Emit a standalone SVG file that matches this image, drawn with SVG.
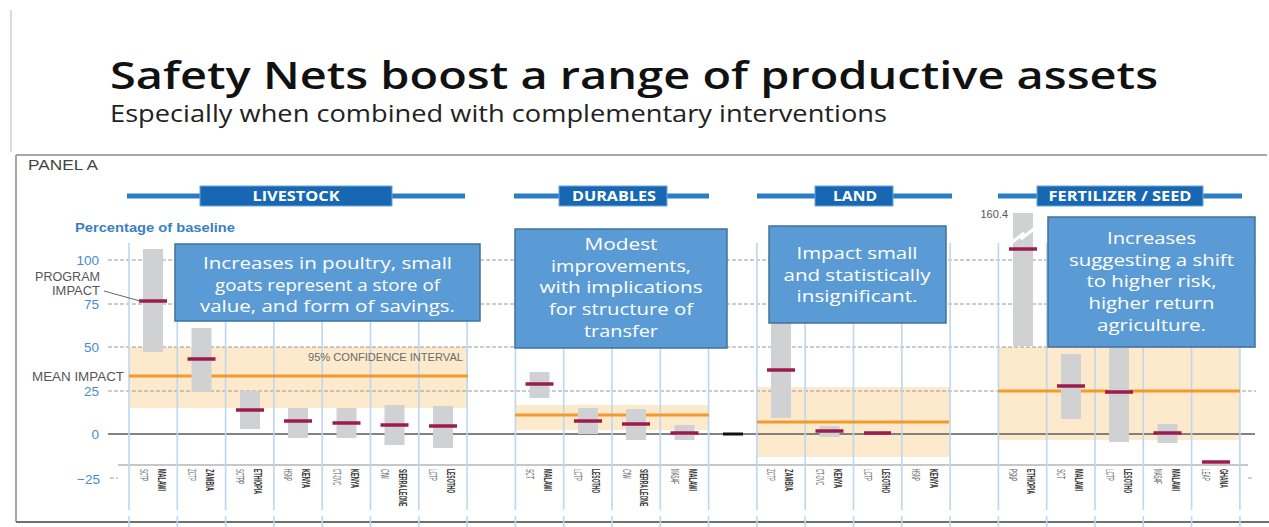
<svg xmlns="http://www.w3.org/2000/svg" width="1269" height="527" viewBox="0 0 1269 527">
<style>
.title{font-family:"Open Sans","Liberation Sans",sans-serif;font-weight:600;fill:#111}
.sub{font-family:"Open Sans","Liberation Sans",sans-serif;fill:#222}
.grid{stroke:#9a9a9a;stroke-width:1;stroke-dasharray:4 2;fill:none}
.col{stroke:#bcd7ef;stroke-width:1.6}
.band{fill:#fde9cb}
.mean{stroke:#f29a2e;stroke-width:3}
.bar{fill:#cfd1d3}
.mark{stroke:#9e1b4f;stroke-width:3.5}
.hdrline{stroke:#2a7cc5;stroke-width:5}
.hdrbox{fill:#1867b3;stroke:#6aa6dc;stroke-width:1}
.hdrtxt{font-family:"Open Sans","Liberation Sans",sans-serif;font-weight:bold;font-size:13.5px;fill:#fff;text-anchor:middle}
.box{fill:#5b9bd5;stroke:#41719c;stroke-width:1.5}
.btxt{font-family:"Open Sans","Liberation Sans",sans-serif;font-size:17px;fill:#fff;text-anchor:middle}
.ax{font-family:"Liberation Sans",sans-serif;font-size:13.5px;fill:#4a8cc9;text-anchor:end}
.lbl{font-family:"Liberation Sans",sans-serif;font-size:12.5px;fill:#555;text-anchor:end}
.prog{font-family:"Liberation Sans",sans-serif;font-size:10px;fill:#666}
.cty{font-family:"Liberation Sans",sans-serif;font-size:10px;font-weight:bold;fill:#333}
</style>

<!-- slide frame -->
<line x1="11" y1="10" x2="11" y2="152" stroke="#cfcfcf" stroke-width="1.5"/>
<text class="title" x="110" y="89" font-size="37" textLength="1048" lengthAdjust="spacingAndGlyphs">Safety Nets boost a range of productive assets</text>
<text class="sub" x="110" y="122" font-size="23" textLength="777" lengthAdjust="spacingAndGlyphs">Especially when combined with complementary interventions</text>

<!-- panel border -->
<g id="panel">
<line x1="16" y1="155" x2="1267" y2="155" stroke="#8a8a8a" stroke-width="1.5"/>
<line x1="16" y1="155" x2="16" y2="522" stroke="#8a8a8a" stroke-width="1.5"/>
<line x1="16" y1="522" x2="1269" y2="522" stroke="#6f6f6f" stroke-width="1.8"/>
<text x="28" y="170" font-family="Liberation Sans,sans-serif" font-size="14" fill="#444" textLength="70" lengthAdjust="spacingAndGlyphs">PANEL A</text>
</g>

<!-- confidence bands -->
<g id="bands">
<rect class="band" x="129" y="347" width="339" height="61"/>
<rect class="band" x="515" y="405" width="194" height="25"/>
<rect class="band" x="757" y="387" width="193" height="70"/>
<rect class="band" x="998" y="347" width="242" height="93"/>
</g>

<!-- gridlines -->
<g id="grid">
<line class="grid" x1="108" y1="260" x2="1256" y2="260"/>
<line class="grid" x1="108" y1="304" x2="1256" y2="304"/>
<line class="grid" x1="108" y1="347" x2="1256" y2="347"/>
<line class="grid" x1="108" y1="391" x2="1256" y2="391"/>
<line class="grid" x1="110" y1="478" x2="118" y2="478"/>
<line class="grid" x1="1248" y1="478" x2="1254" y2="478"/>
<line x1="108" y1="434" x2="1255" y2="434" stroke="#5a5a5a" stroke-width="1.3"/>
<line x1="118" y1="465" x2="1248" y2="465" stroke="#8f8f8f" stroke-width="1.2"/>
</g>

<!-- column dividers -->
<g id="columns">
<path class="col" d="M129 243V510M177.3 243V510M225.6 243V510M273.9 243V510M322.2 243V510M370.5 243V510M418.8 243V510M467.1 243V510M515.4 243V510M563.7 243V510M612 243V510M660.3 243V510M708.6 243V510M756.9 243V510M805.2 243V510M853.5 243V510M901.8 243V510M950.1 243V510M998.4 243V510M1046.7 243V510M1095 243V510M1143.3 243V510M1191.6 243V510M1239.9 243V510"/>
<path class="col" d="M129 516V527M177.3 516V527M225.6 516V527M273.9 516V527M322.2 516V527M370.5 516V527M418.8 516V527M467.1 516V527M515.4 516V527M563.7 516V527M612 516V527M660.3 516V527M708.6 516V527M756.9 516V527M805.2 516V527M853.5 516V527M901.8 516V527M950.1 516V527M998.4 516V527M1046.7 516V527M1095 516V527M1143.3 516V527M1191.6 516V527M1239.9 516V527"/>
</g>

<!-- mean lines -->
<g id="means">
<line class="mean" x1="129" y1="376" x2="468" y2="376"/>
<line class="mean" x1="515" y1="415" x2="709" y2="415"/>
<line class="mean" x1="757" y1="422" x2="949" y2="422"/>
<line class="mean" x1="998" y1="391" x2="1240" y2="391"/>
<text x="463" y="361" font-family="Liberation Sans,sans-serif" font-size="10.5" fill="#6a6a6a" text-anchor="end" textLength="155" lengthAdjust="spacingAndGlyphs">95% CONFIDENCE INTERVAL</text>
</g>

<!-- axis labels -->
<g id="axis">
<text x="75" y="232" font-family="Liberation Sans,sans-serif" font-size="13" font-weight="bold" fill="#3a7fc1" textLength="160" lengthAdjust="spacingAndGlyphs">Percentage of baseline</text>
<text class="ax" x="99" y="265">100</text>
<text class="ax" x="99" y="309">75</text>
<text class="ax" x="99" y="352">50</text>
<text class="ax" x="99" y="396">25</text>
<text class="ax" x="99" y="439">0</text>
<text class="ax" x="100" y="484">−25</text>
<text class="lbl" x="100" y="281" textLength="65" lengthAdjust="spacingAndGlyphs">PROGRAM</text>
<text class="lbl" x="100" y="295" textLength="48" lengthAdjust="spacingAndGlyphs">IMPACT</text>
<text class="lbl" x="124" y="381" font-size="13" textLength="92" lengthAdjust="spacingAndGlyphs">MEAN IMPACT</text>
</g>

<!-- category headers -->
<g id="hdr-livestock">
<line class="hdrline" x1="127" y1="196" x2="465" y2="196"/>
<rect class="hdrbox" x="200" y="186" width="192" height="20"/>
<text class="hdrtxt" x="296" y="201" textLength="87" lengthAdjust="spacingAndGlyphs">LIVESTOCK</text>
</g>
<g id="hdr-durables">
<line class="hdrline" x1="514" y1="196" x2="709" y2="196"/>
<rect class="hdrbox" x="559" y="186" width="108" height="20"/>
<text class="hdrtxt" x="614" y="201" textLength="84" lengthAdjust="spacingAndGlyphs">DURABLES</text>
</g>
<g id="hdr-land">
<line class="hdrline" x1="757" y1="196" x2="952" y2="196"/>
<rect class="hdrbox" x="815" y="186" width="78" height="20"/>
<text class="hdrtxt" x="855" y="201" textLength="44" lengthAdjust="spacingAndGlyphs">LAND</text>
</g>
<g id="hdr-fertilizer">
<line class="hdrline" x1="998" y1="196" x2="1242" y2="196"/>
<rect class="hdrbox" x="1037" y="186" width="166" height="20"/>
<text class="hdrtxt" x="1120" y="201" textLength="143" lengthAdjust="spacingAndGlyphs">FERTILIZER / SEED</text>
</g>

<!-- bars -->
<g id="bars-livestock">
<rect class="bar" x="143" y="249" width="20" height="103"/>
<rect class="bar" x="191.5" y="328" width="20" height="64"/>
<rect class="bar" x="240" y="391" width="20" height="38"/>
<rect class="bar" x="288" y="408" width="20" height="30"/>
<rect class="bar" x="336.5" y="408" width="20" height="30"/>
<rect class="bar" x="384.5" y="405" width="20" height="40"/>
<rect class="bar" x="433" y="406" width="20" height="42"/>
<line class="mark" x1="139" y1="301" x2="167" y2="301"/>
<line class="mark" x1="187.5" y1="359" x2="215.5" y2="359"/>
<line class="mark" x1="236" y1="410" x2="264" y2="410"/>
<line class="mark" x1="284" y1="421" x2="312" y2="421"/>
<line class="mark" x1="332.5" y1="423" x2="360.5" y2="423"/>
<line class="mark" x1="380.5" y1="425" x2="408.5" y2="425"/>
<line class="mark" x1="429" y1="426" x2="457" y2="426"/>
</g>
<g id="bars-durables">
<rect class="bar" x="529.5" y="372" width="20" height="26"/>
<rect class="bar" x="578" y="408" width="20" height="26"/>
<rect class="bar" x="626" y="409" width="20" height="31"/>
<rect class="bar" x="674.5" y="425" width="20" height="15"/>
<line class="mark" x1="525.5" y1="384" x2="553.5" y2="384"/>
<line class="mark" x1="574" y1="421" x2="602" y2="421"/>
<line class="mark" x1="622" y1="424" x2="650" y2="424"/>
<line class="mark" x1="670.5" y1="433" x2="698.5" y2="433"/>
<line x1="723" y1="434" x2="743" y2="434" stroke="#111" stroke-width="3"/>
</g>
<g id="bars-land">
<rect class="bar" x="771" y="300" width="20" height="118"/>
<rect class="bar" x="819.5" y="426" width="20" height="11"/>
<line class="mark" x1="767" y1="370" x2="795" y2="370"/>
<line class="mark" x1="815.5" y1="431" x2="843.5" y2="431"/>
<line class="mark" x1="864" y1="433" x2="891" y2="433"/>
</g>
<g id="bars-fertilizer">
<rect class="bar" x="1013" y="213" width="20" height="133"/>
<path d="M1011 243 L1024 233 L1021 239 L1035 228" stroke="#fff" stroke-width="3" fill="none"/>
<text x="1008" y="218" font-family="Liberation Sans,sans-serif" font-size="11" fill="#555" text-anchor="end">160.4</text>
<rect class="bar" x="1061" y="354" width="20" height="65"/>
<rect class="bar" x="1109" y="330" width="20" height="112"/>
<rect class="bar" x="1157.5" y="424" width="20" height="19"/>
<line class="mark" x1="1009" y1="249" x2="1037" y2="249"/>
<line class="mark" x1="1057" y1="386" x2="1085" y2="386"/>
<line class="mark" x1="1105" y1="392" x2="1133" y2="392"/>
<line class="mark" x1="1153.5" y1="433" x2="1181.5" y2="433"/>
<line class="mark" x1="1202" y1="462" x2="1230" y2="462"/>
</g>

<!-- column labels -->
<g id="col-labels">
<text class="prog" transform="translate(143,469) rotate(90)" dy="3.5" textLength="12" lengthAdjust="spacingAndGlyphs">SCTP</text>
<text class="cty" transform="translate(161,469) rotate(90)" dy="3.5" textLength="22" lengthAdjust="spacingAndGlyphs">MALAWI</text>
<text class="prog" transform="translate(191.3,469) rotate(90)" dy="3.5" textLength="12" lengthAdjust="spacingAndGlyphs">ZCTP</text>
<text class="cty" transform="translate(209.3,469) rotate(90)" dy="3.5" textLength="22" lengthAdjust="spacingAndGlyphs">ZAMBIA</text>
<text class="prog" transform="translate(239.6,469) rotate(90)" dy="3.5" textLength="15" lengthAdjust="spacingAndGlyphs">SCTPP</text>
<text class="cty" transform="translate(257.6,469) rotate(90)" dy="3.5" textLength="25" lengthAdjust="spacingAndGlyphs">ETHIOPIA</text>
<text class="prog" transform="translate(287.9,469) rotate(90)" dy="3.5" textLength="12" lengthAdjust="spacingAndGlyphs">HSNP</text>
<text class="cty" transform="translate(305.9,469) rotate(90)" dy="3.5" textLength="19" lengthAdjust="spacingAndGlyphs">KENYA</text>
<text class="prog" transform="translate(336.2,469) rotate(90)" dy="3.5" textLength="16" lengthAdjust="spacingAndGlyphs">CT-OVC</text>
<text class="cty" transform="translate(354.2,469) rotate(90)" dy="3.5" textLength="19" lengthAdjust="spacingAndGlyphs">KENYA</text>
<text class="prog" transform="translate(384.5,469) rotate(90)" dy="3.5" textLength="10" lengthAdjust="spacingAndGlyphs">CfW</text>
<text class="cty" transform="translate(402.5,469) rotate(90) scale(0.5,1)" dy="3.5">SIERRA LEONE</text>
<text class="prog" transform="translate(432.8,469) rotate(90)" dy="3.5" textLength="12" lengthAdjust="spacingAndGlyphs">LCTP</text>
<text class="cty" transform="translate(450.8,469) rotate(90)" dy="3.5" textLength="24" lengthAdjust="spacingAndGlyphs">LESOTHO</text>

<text class="prog" transform="translate(529.4,469) rotate(90)" dy="3.5" textLength="10" lengthAdjust="spacingAndGlyphs">SCT</text>
<text class="cty" transform="translate(547.4,469) rotate(90)" dy="3.5" textLength="22" lengthAdjust="spacingAndGlyphs">MALAWI</text>
<text class="prog" transform="translate(577.7,469) rotate(90)" dy="3.5" textLength="12" lengthAdjust="spacingAndGlyphs">LCTP</text>
<text class="cty" transform="translate(595.7,469) rotate(90)" dy="3.5" textLength="24" lengthAdjust="spacingAndGlyphs">LESOTHO</text>
<text class="prog" transform="translate(626,469) rotate(90)" dy="3.5" textLength="10" lengthAdjust="spacingAndGlyphs">CfW</text>
<text class="cty" transform="translate(644,469) rotate(90) scale(0.5,1)" dy="3.5">SIERRA LEONE</text>
<text class="prog" transform="translate(674.3,469) rotate(90)" dy="3.5" textLength="15" lengthAdjust="spacingAndGlyphs">MASAF</text>
<text class="cty" transform="translate(692.3,469) rotate(90)" dy="3.5" textLength="22" lengthAdjust="spacingAndGlyphs">MALAWI</text>

<text class="prog" transform="translate(770.9,469) rotate(90)" dy="3.5" textLength="12" lengthAdjust="spacingAndGlyphs">ZCTP</text>
<text class="cty" transform="translate(788.9,469) rotate(90)" dy="3.5" textLength="22" lengthAdjust="spacingAndGlyphs">ZAMBIA</text>
<text class="prog" transform="translate(819.2,469) rotate(90)" dy="3.5" textLength="16" lengthAdjust="spacingAndGlyphs">CT-OVC</text>
<text class="cty" transform="translate(837.2,469) rotate(90)" dy="3.5" textLength="19" lengthAdjust="spacingAndGlyphs">KENYA</text>
<text class="prog" transform="translate(867.5,469) rotate(90)" dy="3.5" textLength="12" lengthAdjust="spacingAndGlyphs">LCTP</text>
<text class="cty" transform="translate(885.5,469) rotate(90)" dy="3.5" textLength="24" lengthAdjust="spacingAndGlyphs">LESOTHO</text>
<text class="prog" transform="translate(915.8,469) rotate(90)" dy="3.5" textLength="12" lengthAdjust="spacingAndGlyphs">HSNP</text>
<text class="cty" transform="translate(933.8,469) rotate(90)" dy="3.5" textLength="19" lengthAdjust="spacingAndGlyphs">KENYA</text>

<text class="prog" transform="translate(1012.4,469) rotate(90)" dy="3.5" textLength="12" lengthAdjust="spacingAndGlyphs">PSNP</text>
<text class="cty" transform="translate(1030.4,469) rotate(90)" dy="3.5" textLength="25" lengthAdjust="spacingAndGlyphs">ETHIOPIA</text>
<text class="prog" transform="translate(1060.7,469) rotate(90)" dy="3.5" textLength="10" lengthAdjust="spacingAndGlyphs">SCT</text>
<text class="cty" transform="translate(1078.7,469) rotate(90)" dy="3.5" textLength="22" lengthAdjust="spacingAndGlyphs">MALAWI</text>
<text class="prog" transform="translate(1109,469) rotate(90)" dy="3.5" textLength="12" lengthAdjust="spacingAndGlyphs">LCTP</text>
<text class="cty" transform="translate(1127,469) rotate(90)" dy="3.5" textLength="24" lengthAdjust="spacingAndGlyphs">LESOTHO</text>
<text class="prog" transform="translate(1157.3,469) rotate(90)" dy="3.5" textLength="15" lengthAdjust="spacingAndGlyphs">MASAF</text>
<text class="cty" transform="translate(1175.3,469) rotate(90)" dy="3.5" textLength="22" lengthAdjust="spacingAndGlyphs">MALAWI</text>
<text class="prog" transform="translate(1205.6,469) rotate(90)" dy="3.5" textLength="12" lengthAdjust="spacingAndGlyphs">LEAP</text>
<text class="cty" transform="translate(1223.6,469) rotate(90)" dy="3.5" textLength="19" lengthAdjust="spacingAndGlyphs">GHANA</text>
</g>

<!-- connectors -->
<g id="connectors">
<line x1="104" y1="291" x2="140" y2="301" stroke="#666" stroke-width="1"/>
</g>

<!-- callout boxes -->
<g id="note-livestock">
<rect class="box" x="175" y="244" width="305" height="77"/>
<text class="btxt" x="327.5" y="269" textLength="249" lengthAdjust="spacingAndGlyphs">Increases in poultry, small</text>
<text class="btxt" x="327.5" y="291" textLength="225" lengthAdjust="spacingAndGlyphs">goats represent a store of</text>
<text class="btxt" x="327.5" y="312" textLength="255" lengthAdjust="spacingAndGlyphs">value, and form of savings.</text>
</g>
<g id="note-durables">
<rect class="box" x="515" y="229" width="212" height="119"/>
<text class="btxt" x="621" y="250" textLength="73" lengthAdjust="spacingAndGlyphs">Modest</text>
<text class="btxt" x="621" y="272" textLength="140" lengthAdjust="spacingAndGlyphs">improvements,</text>
<text class="btxt" x="621" y="293" textLength="163" lengthAdjust="spacingAndGlyphs">with implications</text>
<text class="btxt" x="621" y="315" textLength="144" lengthAdjust="spacingAndGlyphs">for structure of</text>
<text class="btxt" x="621" y="337" textLength="74" lengthAdjust="spacingAndGlyphs">transfer</text>
</g>
<g id="note-land">
<rect class="box" x="769" y="226" width="177" height="97"/>
<text class="btxt" x="857" y="259" textLength="121" lengthAdjust="spacingAndGlyphs">Impact small</text>
<text class="btxt" x="857" y="281" textLength="147" lengthAdjust="spacingAndGlyphs">and statistically</text>
<text class="btxt" x="857" y="302" textLength="121" lengthAdjust="spacingAndGlyphs">insignificant.</text>
</g>
<g id="note-fertilizer">
<rect class="box" x="1048" y="217" width="207" height="130"/>
<text class="btxt" x="1151.5" y="244" textLength="89" lengthAdjust="spacingAndGlyphs">Increases</text>
<text class="btxt" x="1151.5" y="266" textLength="165" lengthAdjust="spacingAndGlyphs">suggesting a shift</text>
<text class="btxt" x="1151.5" y="287" textLength="130" lengthAdjust="spacingAndGlyphs">to higher risk,</text>
<text class="btxt" x="1151.5" y="309" textLength="126" lengthAdjust="spacingAndGlyphs">higher return</text>
<text class="btxt" x="1151.5" y="331" textLength="109" lengthAdjust="spacingAndGlyphs">agriculture.</text>
</g>
</svg>
